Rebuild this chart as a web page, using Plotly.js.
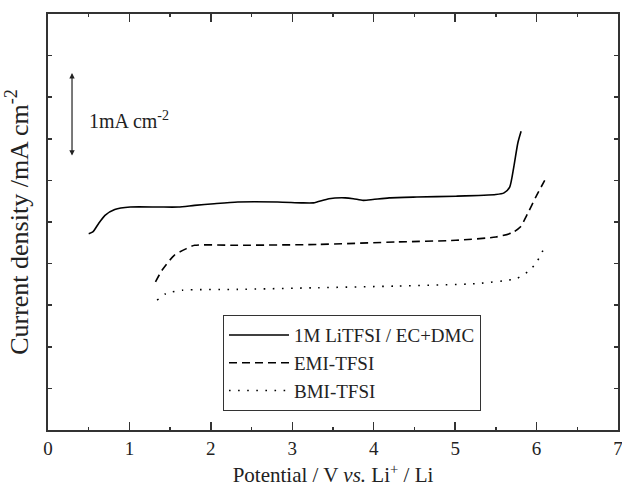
<!DOCTYPE html>
<html>
<head>
<meta charset="utf-8">
<script src="https://cdn.plot.ly/plotly-3.0.1.min.js"></script>
<style>html,body{margin:0;padding:0;background:#fff;}#chart{width:622px;height:494px;}</style>
</head>
<body>
<div id="chart"></div>
<script>
// Potential (V vs Li+/Li) and current density (arbitrary offset, mA cm^-2)
var xLiTFSI = [0.50,0.55,0.62,0.70,0.82,1.01,1.36,1.60,1.80,2.04,2.33,2.82,3.11,3.26,3.45,3.65,3.75,3.87,3.99,4.19,4.53,5.01,5.50,5.60,5.67,5.72,5.77,5.81];
var yLiTFSI = [2.36,2.38,2.48,2.58,2.65,2.68,2.68,2.68,2.70,2.72,2.74,2.74,2.73,2.73,2.78,2.79,2.78,2.76,2.77,2.79,2.80,2.81,2.83,2.85,2.92,3.16,3.45,3.59];

var xEMI = [1.32,1.40,1.55,1.70,1.80,2.33,3.31,4.28,5.01,5.50,5.70,5.80,5.89,5.99,6.10];
var yEMI = [1.78,1.92,2.10,2.18,2.22,2.22,2.23,2.26,2.28,2.32,2.37,2.44,2.60,2.80,3.00];

var xBMI = [1.34,1.45,1.65,2.33,3.31,4.28,5.26,5.75,5.89,5.99,6.10];
var yBMI = [1.56,1.64,1.68,1.69,1.71,1.73,1.76,1.82,1.90,2.00,2.20];

var seriesNames = ['1M LiTFSI / EC+DMC','EMI-TFSI','BMI-TFSI'];
var xTickVals = [0,1,2,3,4,5,6,7];
var xTickText = ['0','1','2','3','4','5','6','7'];

var font = 'Liberation Serif, Times New Roman, serif';

var traces = [
  {x:xLiTFSI, y:yLiTFSI, name:seriesNames[0], mode:'lines', line:{color:'#000', width:1.6, shape:'spline', smoothing:0.6}},
  {x:xEMI, y:yEMI, name:seriesNames[1], mode:'lines', line:{color:'#000', width:1.6, dash:'8px,5px', shape:'spline', smoothing:0.6}},
  {x:xBMI, y:yBMI, name:seriesNames[2], mode:'lines', line:{color:'#000', width:1.6, dash:'1.6px,7.5px', shape:'spline', smoothing:0.6}}
];

var axisCommon = {
  showgrid:false, zeroline:false, showline:true, linecolor:'#333', linewidth:2,
  mirror:'ticks', ticks:'inside', tickcolor:'#333', tickwidth:1.5
};

var layout = {
  width:622, height:494,
  margin:{l:48, r:4, t:14, b:64},
  paper_bgcolor:'#fff', plot_bgcolor:'#fff',
  font:{family:font, color:'#222', size:18},
  showlegend:true,
  legend:{x:0.307, y:0.276, xanchor:'left', yanchor:'top', bordercolor:'#333', borderwidth:1, bgcolor:'#fff',
          font:{family:font, size:19, color:'#222'}, tracegroupgap:0, itemwidth:60},
  xaxis: Object.assign({}, axisCommon, {
    range:[0,7], tickvals:xTickVals, ticktext:xTickText, ticklen:8, ticklabeloverflow:'allow',
    minor:{dtick:0.5, ticks:'inside', ticklen:3, tickcolor:'#333', tickwidth:1.5},
    tickfont:{family:font, size:19, color:'#222'},
    title:{text:'Potential / V <i>vs.</i> Li<sup>+</sup> / Li', font:{family:font, size:21, color:'#222'}, standoff:10}
  }),
  yaxis: Object.assign({}, axisCommon, {
    range:[0,5], dtick:0.5, tick0:0, ticklen:4, showticklabels:false,
    title:{text:'Current density /mA cm<sup>-2</sup>', font:{family:font, size:26, color:'#222'}, standoff:10}
  }),
  annotations:[
    {x:0.295, y:4.29, ax:0.295, ay:3.28, xref:'x', yref:'y', axref:'x', ayref:'y', text:'',
     showarrow:true, arrowhead:2, arrowside:'end+start', arrowsize:0.9, arrowwidth:1.2, arrowcolor:'#222'},
    {x:0.48, y:3.73, xref:'x', yref:'y', xanchor:'left', yanchor:'middle', showarrow:false,
     text:'1mA cm<sup>-2</sup>', font:{family:font, size:20, color:'#222'}}
  ]
};

Plotly.newPlot('chart', traces, layout, {displayModeBar:false, staticPlot:true});
</script>
</body>
</html>
